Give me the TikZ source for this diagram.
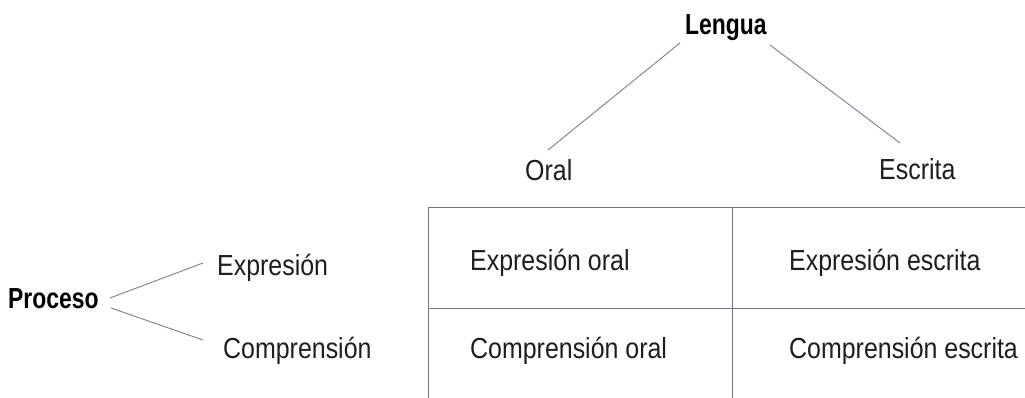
\documentclass[tikz,border=0pt]{standalone}
\usepackage{fontspec}
\setmainfont{Liberation Sans}[FakeStretch=0.86, BoldFeatures={FakeStretch=0.79}]
\definecolor{linecol}{RGB}{125,125,150}
\definecolor{tabcol}{RGB}{115,115,135}
\definecolor{txtcol}{RGB}{30,30,30}
\begin{document}
\begin{tikzpicture}[x=1pt,y=-1pt,
  lbl/.style={anchor=base west, inner sep=0pt, text=txtcol, font=\fontsize{29}{32}\selectfont},
  blbl/.style={lbl, font=\fontsize{29}{32}\selectfont\bfseries, text=black},
  conn/.style={draw=linecol, line width=0.9pt},
  tab/.style={draw=tabcol, line width=1pt}]
\useasboundingbox[fill=white] (0,0) rectangle (1025,398);
% nodes
\node[blbl] (lengua) at (685,35) {Lengua};
\node[lbl] (oral) at (525,181) {Oral};
\node[lbl] (escrita) at (879,180) {Escrita};
\node[blbl] (proceso) at (8,308) {Proceso};
\node[lbl] (expr) at (217,275) {Expresión};
\node[lbl] (compr) at (223,358) {Comprensión};
\node[lbl] (eo) at (470,270) {Expresión oral};
\node[lbl] (ee) at (789,270) {Expresión escrita};
\node[lbl] (co) at (470,358) {Comprensión oral};
\node[lbl] (ce) at (789,358) {Comprensión escrita};
% connector ends
\coordinate (lL) at (680,43);
\coordinate (lO) at (548,150);
\coordinate (lR) at (770,45);
\coordinate (lE) at (900,143);
\coordinate (pU) at (110,298);
\coordinate (pE) at (203,263);
\coordinate (pD) at (111,308);
\coordinate (pC) at (203,340);
\draw[conn] (lL) -- (lO);
\draw[conn] (lR) -- (lE);
\draw[conn] (pU) -- (pE);
\draw[conn] (pD) -- (pC);
% table
\coordinate (tTL) at (428,208);
\coordinate (tBL) at (428,398);
\coordinate (tTR) at (1025,208);
\coordinate (tTM) at (732,208);
\coordinate (tBM) at (732,398);
\coordinate (tML) at (428,308);
\coordinate (tMR) at (1025,308);
\draw[tab] (tBL) -- (tTL) -- (tTR);
\draw[tab] (tTM) -- (tBM);
\draw[tab] (tML) -- (tMR);
\end{tikzpicture}
\end{document}
